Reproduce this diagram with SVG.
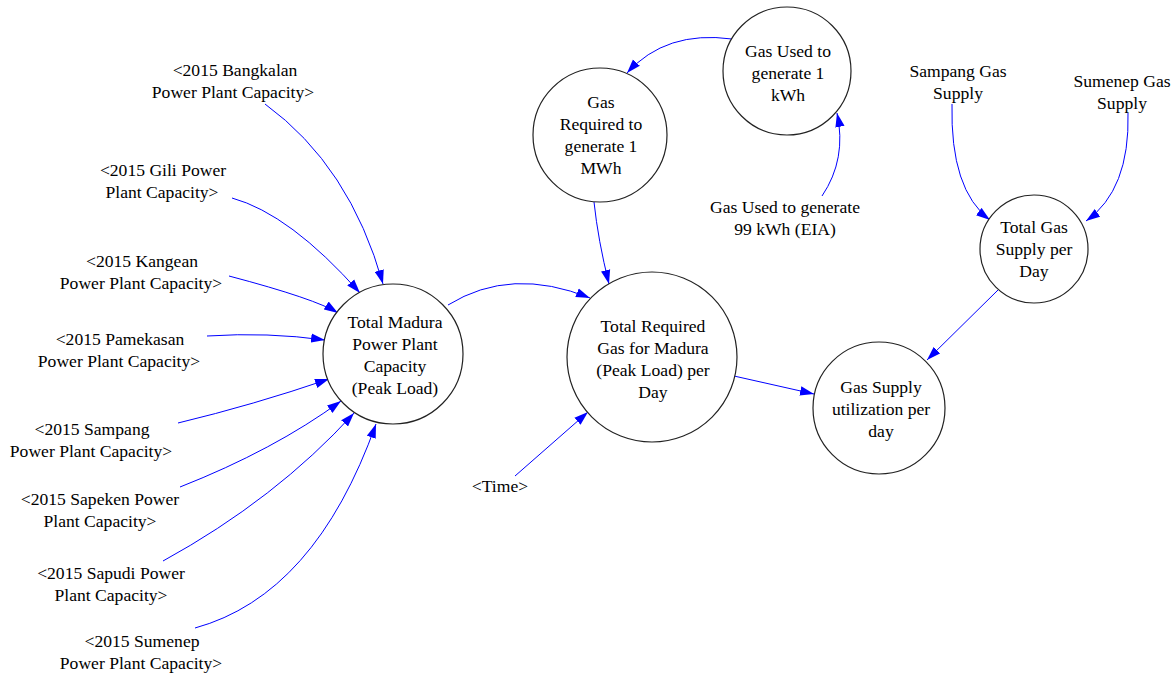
<svg xmlns="http://www.w3.org/2000/svg" width="1176" height="675" viewBox="0 0 1176 675">
<defs>
<style>
text{font-family:'Liberation Serif','Times New Roman','DejaVu Serif',serif;font-size:17.6px;fill:#000;text-anchor:middle}
.n{fill:#fff;stroke:#222;stroke-width:1.2}
.c{fill:none;stroke:#0000ff;stroke-width:1;marker-end:url(#ah)}
</style>
<marker id="ah" viewBox="0 0 12 8" refX="12" refY="4" markerWidth="14" markerHeight="10" markerUnits="userSpaceOnUse" orient="auto">
<path d="M0,0 L12,4 L0,8 z" fill="#0000ff"/>
</marker>
</defs>
<rect width="1176" height="675" fill="#fff"/>
<g id="connectors">
<path class="c" d="M265,104 Q350,166 383,284"/>
<path class="c" d="M232,198 Q290,214 360,293"/>
<path class="c" d="M229,276 Q316,299 338,313"/>
<path class="c" d="M207,336 Q268,332 325,340"/>
<path class="c" d="M178,423 Q253,405 329,379"/>
<path class="c" d="M180,487 Q274,450 341,401"/>
<path class="c" d="M163,561 Q276,499 354,413"/>
<path class="c" d="M195,628 Q315,595 376,424"/>
<path class="c" d="M448,305 Q511,266 590,298"/>
<path class="c" d="M594,202 Q598,240 609,284"/>
<path class="c" d="M732,39 Q666,30 627,73"/>
<path class="c" d="M822,196 Q847,159 837,113"/>
<path class="c" d="M515,476 L588,412"/>
<path class="c" d="M734,376 L814,394"/>
<path class="c" d="M952,104 Q950,190 990,220"/>
<path class="c" d="M1128,113 Q1130,190 1086,221"/>
<path class="c" d="M998,290 L927,360"/>
</g>
<g id="n_bangkalan"><text x="235" y="76">&lt;2015 Bangkalan</text><text x="233" y="98">Power Plant Capacity&gt;</text></g>
<g id="n_gili"><text x="163" y="176">&lt;2015 Gili Power</text><text x="162" y="198">Plant Capacity&gt;</text></g>
<g id="n_kangean"><text x="142" y="267">&lt;2015 Kangean</text><text x="141" y="289">Power Plant Capacity&gt;</text></g>
<g id="n_pamekasan"><text x="120" y="345">&lt;2015 Pamekasan</text><text x="119" y="367">Power Plant Capacity&gt;</text></g>
<g id="n_sampang"><text x="92" y="435">&lt;2015 Sampang</text><text x="91" y="457">Power Plant Capacity&gt;</text></g>
<g id="n_sapeken"><text x="100" y="505">&lt;2015 Sapeken Power</text><text x="100" y="527">Plant Capacity&gt;</text></g>
<g id="n_sapudi"><text x="111" y="579">&lt;2015 Sapudi Power</text><text x="111" y="601">Plant Capacity&gt;</text></g>
<g id="n_sumenep"><text x="142" y="647">&lt;2015 Sumenep</text><text x="141" y="669">Power Plant Capacity&gt;</text></g>
<g id="n_madura"><circle class="n" cx="393" cy="354" r="70"/><text x="395" y="328">Total Madura</text><text x="395" y="350">Power Plant</text><text x="395" y="372">Capacity</text><text x="395" y="394">(Peak Load)</text></g>
<g id="n_required"><circle class="n" cx="652" cy="357" r="85"/><text x="653" y="332">Total Required</text><text x="653" y="354">Gas for Madura</text><text x="653" y="376">(Peak Load) per</text><text x="653" y="398">Day</text></g>
<g id="n_mwh"><circle class="n" cx="600" cy="135" r="67"/><text x="601" y="108">Gas</text><text x="601" y="130">Required to</text><text x="601" y="152">generate 1</text><text x="601" y="174">MWh</text></g>
<g id="n_kwh"><circle class="n" cx="787" cy="71" r="64"/><text x="788" y="57">Gas Used to</text><text x="788" y="79">generate 1</text><text x="788" y="101">kWh</text></g>
<g id="n_eia"><text x="785" y="213">Gas Used to generate</text><text x="785" y="235">99 kWh (EIA)</text></g>
<g id="n_time"><text x="500" y="492">&lt;Time&gt;</text></g>
<g id="n_sampanggas"><text x="958" y="77">Sampang Gas</text><text x="958" y="99">Supply</text></g>
<g id="n_sumenepgas"><text x="1122" y="87">Sumenep Gas</text><text x="1122" y="109">Supply</text></g>
<g id="n_totalgas"><circle class="n" cx="1034" cy="249" r="54"/><text x="1034" y="233">Total Gas</text><text x="1034" y="255">Supply per</text><text x="1034" y="277">Day</text></g>
<g id="n_util"><circle class="n" cx="879" cy="408" r="66"/><text x="881" y="393">Gas Supply</text><text x="881" y="415">utilization per</text><text x="881" y="437">day</text></g>
</svg>
